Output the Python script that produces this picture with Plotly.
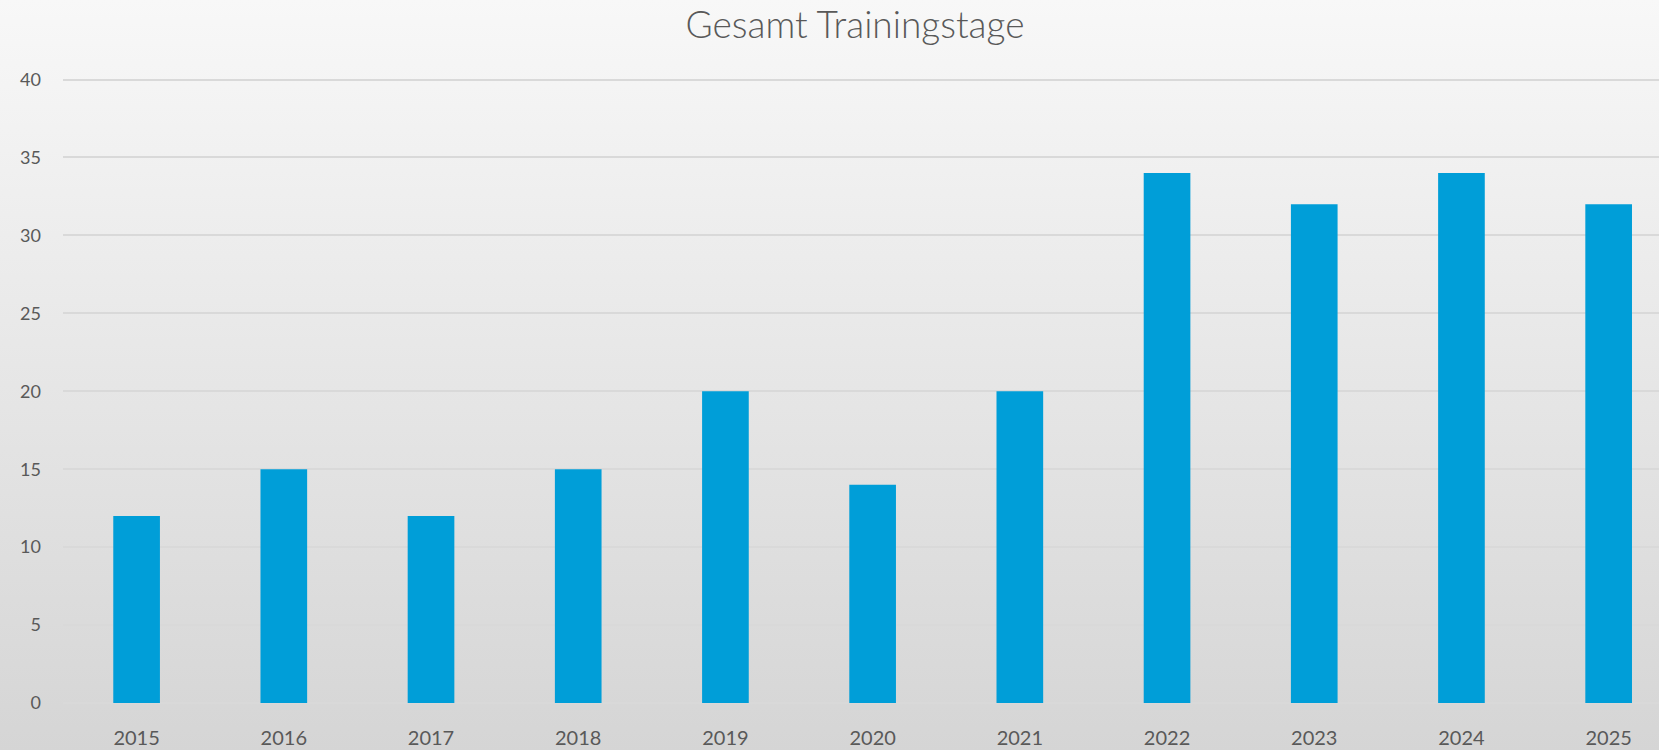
import base64
import plotly.graph_objects as go

jahre = ["2015", "2016", "2017", "2018", "2019", "2020", "2021", "2022", "2023", "2024", "2025"]
trainingstage = [12, 15, 12, 15, 20, 14, 20, 34, 32, 34, 32]
y_ticks = [0, 5, 10, 15, 20, 25, 30, 35, 40]

W, H = 1659, 750
Y_TOP = 40.1
ML, MR, MB = 63, 0, 47
MT = 80 - (Y_TOP - 40) * (703 - 80) / 40
plot_w = W - ML - MR
plot_h = H - MT - MB

# background gradient (light grey top -> darker grey bottom)
svg = (
    f'<svg xmlns="http://www.w3.org/2000/svg" width="{W}" height="{H}" '
    f'viewBox="0 0 {W} {H}" preserveAspectRatio="none">'
    '<defs><linearGradient id="g" x1="0" y1="0" x2="0" y2="1">'
    '<stop offset="0" stop-color="#f8f8f8"/><stop offset="1" stop-color="#d5d5d5"/>'
    '</linearGradient></defs>'
    f'<rect width="{W}" height="{H}" fill="url(#g)"/></svg>'
)
bg = "data:image/svg+xml;base64," + base64.b64encode(svg.encode()).decode()

fig = go.Figure(
    go.Bar(x=jahre, y=trainingstage, marker=dict(color="#009ED8", line=dict(width=0)))
)

fig.add_layout_image(
    source=bg, xref="paper", yref="paper",
    x=-ML / plot_w, y=1 + MT / plot_h,
    sizex=W / plot_w, sizey=H / plot_h,
    xanchor="left", yanchor="top", sizing="stretch", layer="below",
)

fig.update_layout(
    width=W, height=H,
    margin=dict(l=ML, r=MR, t=MT, b=MB),
    paper_bgcolor="#e6e6e6",
    plot_bgcolor="rgba(0,0,0,0)",
    bargap=0.683,
    showlegend=False,
    font=dict(family="Lato", color="#595959"),
    title=dict(
        text="Gesamt Trainingstage",
        font=dict(family="Lato", size=37, color="#595959", weight=300),
        x=(855 - ML) / plot_w, xref="paper", xanchor="center",
        y=1 - 25 / H, yref="container", yanchor="middle",
    ),
)
fig.update_xaxes(
    range=[-0.5, 10.342],
    showgrid=False, showline=False, zeroline=False,
    tickfont=dict(size=20, color="#595959"),
    ticklabelstandoff=21,
)
fig.update_yaxes(
    range=[0, Y_TOP], tickvals=y_ticks,
    showgrid=True, gridcolor="#d9d9d9", gridwidth=1.5,
    zeroline=True, zerolinecolor="#d9d9d9", zerolinewidth=1.5,
    showline=False,
    tickfont=dict(size=18, color="#595959"),
    ticklabelstandoff=21,
)

fig.write_html(
    "out.html",
    config={"displayModeBar": False},
    post_script="document.body.style.margin='0';",
)
